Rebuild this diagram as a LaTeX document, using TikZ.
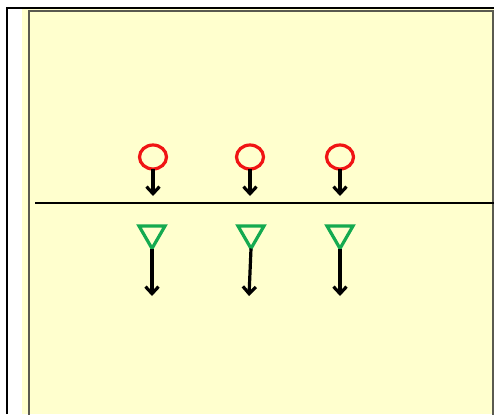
\documentclass[tikz,border=0pt]{standalone}
\usetikzlibrary{shapes.geometric,arrows.meta}
\definecolor{panelfill}{RGB}{255,255,206}
\definecolor{panelline}{RGB}{90,90,80}
\definecolor{myred}{RGB}{240,20,20}
\definecolor{mygreen}{RGB}{20,170,80}
\tikzset{
  src/.style={ellipse,draw=myred,line width=3.2pt,minimum width=27pt,minimum height=24pt,inner sep=0pt,outer sep=0pt},
  snk/.style={regular polygon,regular polygon sides=3,shape border rotate=180,draw=mygreen,line width=3.2pt,minimum size=30pt,inner sep=0pt,outer sep=0pt},
  flow/.style={line width=3.2pt,-{Straight Barb[length=7pt,width=13pt]}}
}
\begin{document}
\begin{tikzpicture}[x=1pt,y=-1pt]
\useasboundingbox (0,0) rectangle (494,414);
\fill[white] (0,0) rectangle (494,414);
% panel
\fill[panelfill] (22,9) rectangle (494,414);
\draw[panelline,line width=2pt] (28.5,420) -- (28.5,11.5) -- (492.5,11.5) -- (492.5,420);
% black L frame
\draw[black,line width=2.4pt] (7,414) -- (7,8) -- (494,8);
% separator line
\coordinate (l1) at (35,203);
\coordinate (l2) at (494,203);
\draw[black,line width=1.4pt] (l1) -- (l2);
% sources
\node[src] (c1) at (153,157) {};
\node[src] (c2) at (250,157) {};
\node[src] (c3) at (340,157) {};
\coordinate (e1) at (153,196);
\coordinate (e2) at (250,196);
\coordinate (e3) at (340,196);
\draw[flow] (c1.south) -- (e1);
\draw[flow] (c2.south) -- (e2);
\draw[flow] (c3.south) -- (e3);
% sinks
\node[snk,anchor=north] (t1) at (152,226) {};
\node[snk,anchor=north] (t2) at (251,226) {};
\node[snk,anchor=north] (t3) at (340,226) {};
\coordinate (f1) at (152,296);
\coordinate (f2) at (249,296);
\coordinate (f3) at (340,296);
\draw[flow] (t1.south) -- (f1);
\draw[flow] (t2.south) -- (f2);
\draw[flow] (t3.south) -- (f3);
\end{tikzpicture}
\end{document}
